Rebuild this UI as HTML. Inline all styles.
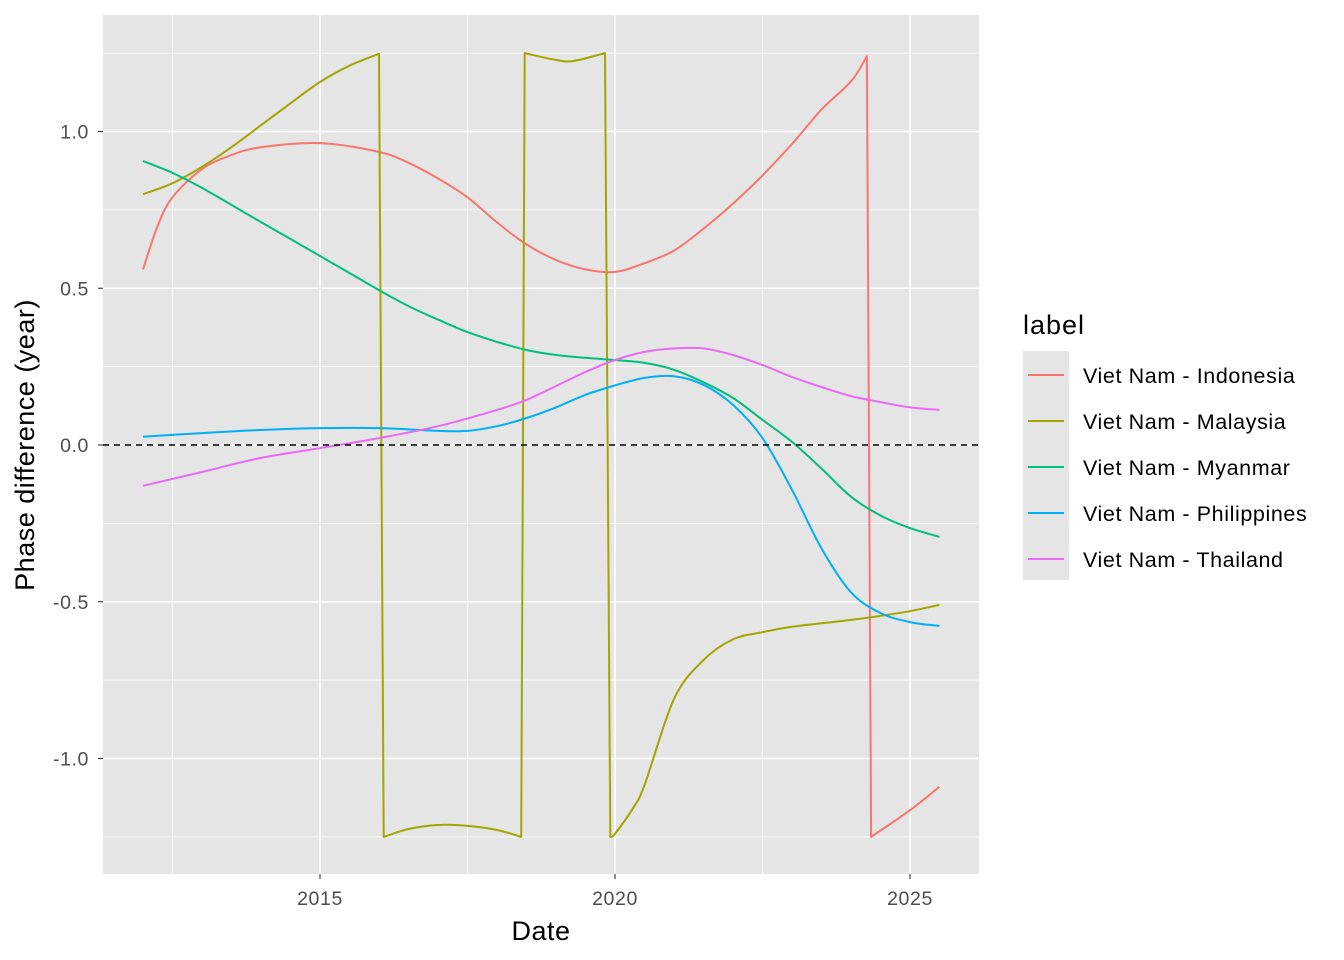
<!DOCTYPE html>
<html><head><meta charset="utf-8"><style>
body{margin:0;background:#fff;}
svg{font-family:"Liberation Sans",Arial,sans-serif;display:block}
</style></head><body>
<svg id="chart" width="1344" height="960">
<rect x="103" y="15" width="876" height="859" fill="#e5e5e5"/>
<g id="grid"></g>
<g id="series"></g>
<line x1="103" x2="979" id="zero" stroke="#000" stroke-width="1.6" stroke-dasharray="6,5"/>
<g id="axes"></g>
<text x="541" y="940" text-anchor="middle" font-size="27" letter-spacing="0.5">Date</text>
<text transform="translate(34,445) rotate(-90)" text-anchor="middle" font-size="27" letter-spacing="0.5">Phase difference (year)</text>
<g>
<text x="1023" y="334" font-size="27" letter-spacing="1">label</text>
<rect x="1023" y="351" width="46" height="229" fill="#e5e5e5"/>
<g id="legend"></g>
</g>
</svg>
<script>
const seriesNames=["Viet Nam - Indonesia","Viet Nam - Malaysia","Viet Nam - Myanmar","Viet Nam - Philippines","Viet Nam - Thailand"];
const seriesColors=["#F8766D","#A3A500","#00BF7D","#00B0F6","#E76BF3"];
const indoX=[2012,2012.25,2012.5,2013,2013.5,2014,2015,2016,2016.5,2017,2017.5,2018,2018.5,2019,2019.5,2020,2020.5,2021,2021.5,2022,2022.5,2023,2023.5,2024,2024.27,2024.34,2025,2025.5];
const indoY=[0.56,0.70,0.79,0.88,0.925,0.95,0.963,0.935,0.90,0.85,0.79,0.71,0.64,0.59,0.56,0.552,0.58,0.62,0.69,0.77,0.86,0.96,1.07,1.16,1.24,-1.25,-1.165,-1.09];
const malX=[2012,2012.5,2013,2013.5,2014,2014.5,2015,2015.5,2016,2016.08,2016.5,2017,2017.5,2018,2018.41,2018.47,2019,2019.3,2019.83,2019.92,2020,2020.3,2020.5,2021,2021.5,2022,2022.5,2023,2024,2024.5,2025,2025.5];
const malY=[0.80,0.835,0.887,0.95,1.02,1.09,1.158,1.21,1.248,-1.25,-1.225,-1.212,-1.215,-1.228,-1.25,1.25,1.228,1.225,1.25,-1.25,-1.24,-1.16,-1.085,-0.81,-0.686,-0.62,-0.597,-0.58,-0.558,-0.545,-0.53,-0.51];
const myaX=[2012,2012.5,2013,2014,2015,2016,2016.5,2017,2017.5,2018,2018.5,2019,2019.5,2020,2020.5,2021,2021.5,2022,2022.5,2023,2023.5,2024,2024.5,2025,2025.5];
const myaY=[0.906,0.868,0.82,0.711,0.603,0.494,0.443,0.40,0.36,0.329,0.303,0.287,0.278,0.271,0.262,0.24,0.20,0.15,0.08,0.01,-0.075,-0.165,-0.225,-0.265,-0.293];
const phiX=[2012,2013,2014,2015,2016,2017,2017.5,2018,2018.5,2019,2019.5,2020,2020.5,2021,2021.5,2022,2022.5,2023,2023.5,2024,2024.5,2025,2025.5];
const phiY=[0.026,0.038,0.048,0.054,0.054,0.045,0.045,0.06,0.086,0.12,0.16,0.19,0.214,0.219,0.192,0.128,0.022,-0.143,-0.33,-0.47,-0.536,-0.565,-0.577];
const thaX=[2012,2013,2014,2015,2016,2017,2018,2018.5,2019,2019.5,2020,2020.5,2021,2021.5,2022,2022.5,2023,2023.5,2024,2024.5,2025,2025.5];
const thaY=[-0.13,-0.086,-0.041,-0.01,0.022,0.06,0.112,0.144,0.188,0.233,0.271,0.297,0.308,0.308,0.287,0.255,0.217,0.185,0.156,0.137,0.12,0.112];
const xTicks=[2015,2020,2025];
const xMinor=[2012.5,2017.5,2022.5];
const yTicks=[-1.0,-0.5,0.0,0.5,1.0];
const yTickLabels=["-1.0","-0.5","0.0","0.5","1.0"];
const yMinor=[-1.25,-0.75,-0.25,0.25,0.75,1.25];

const sx=v=>320+(v-2015)*59;
const sy=v=>445-v*313.5;
const NS="http://www.w3.org/2000/svg";
function mk(tag,attrs,parent){const e=document.createElementNS(NS,tag);for(const k in attrs)e.setAttribute(k,attrs[k]);parent.appendChild(e);return e;}
const grid=document.getElementById('grid'),axes=document.getElementById('axes'),ser=document.getElementById('series');
yMinor.forEach(v=>{const l=mk('line',{x1:103,x2:979,y1:sy(v),y2:sy(v),stroke:'#fff','stroke-width':0.8},grid);

});
xMinor.forEach(v=>{const l=mk('line',{x1:sx(v),x2:sx(v),y1:15,y2:874,stroke:'#fff','stroke-width':0.8},grid);

});
yTicks.forEach((v,i)=>{const l=mk('line',{x1:103,x2:979,y1:sy(v),y2:sy(v),stroke:'#fff','stroke-width':1.6},grid);


const t=mk('line',{x1:98,x2:103,y1:sy(v),y2:sy(v),stroke:'#333','stroke-width':1.1},axes);


const tx=mk('text',{x:89,y:sy(v)+7,'text-anchor':'end','font-size':19.5,'letter-spacing':0.6,fill:'#4d4d4d'},axes);tx.textContent=yTickLabels[i];

});
xTicks.forEach(v=>{const l=mk('line',{x1:sx(v),x2:sx(v),y1:15,y2:874,stroke:'#fff','stroke-width':1.6},grid);


const t=mk('line',{x1:sx(v),x2:sx(v),y1:874,y2:879,stroke:'#333','stroke-width':1.1},axes);


const tx=mk('text',{x:sx(v),y:905,'text-anchor':'middle','font-size':19.5,'letter-spacing':0.6,fill:'#4d4d4d'},axes);tx.textContent=v;

});
const z=document.getElementById('zero');z.setAttribute('y1',sy(0));z.setAttribute('y2',sy(0));
const all=[[indoX,indoY],[malX,malY],[myaX,myaY],[phiX,phiY],[thaX,thaY]];
const keys=['indonesia','malaysia','myanmar','philippines','thailand'];
function smoothPath(pts){
  // split at jumps, catmull-rom within segments
  const segs=[];let cur=[pts[0]];
  for(let i=1;i<pts.length;i++){if(Math.abs(pts[i][1]-pts[i-1][1])>300){segs.push(cur);cur=[pts[i]];}else cur.push(pts[i]);}
  segs.push(cur);
  let d='';
  segs.forEach((s,si)=>{
    d+=(si?'L':'M')+s[0][0].toFixed(1)+','+s[0][1].toFixed(1);
    for(let i=0;i<s.length-1;i++){
      const p0=s[i-1]||s[i],p1=s[i],p2=s[i+1],p3=s[i+2]||s[i+1];
      const c1=[p1[0]+(p2[0]-p0[0])/6,p1[1]+(p2[1]-p0[1])/6];
      const c2=[p2[0]-(p3[0]-p1[0])/6,p2[1]-(p3[1]-p1[1])/6];
      d+='C'+c1[0].toFixed(1)+','+c1[1].toFixed(1)+' '+c2[0].toFixed(1)+','+c2[1].toFixed(1)+' '+p2[0].toFixed(1)+','+p2[1].toFixed(1);
    }
  });
  return d;
}
all.forEach((s,i)=>{const pts=s[0].map((x,j)=>[sx(x),sy(s[1][j])]);
const p=mk('path',{d:smoothPath(pts),fill:'none',stroke:seriesColors[i],'stroke-width':2,'stroke-linejoin':'round'},ser);

});
const lg=document.getElementById('legend');
seriesNames.forEach((n,i)=>{const y=375+i*46;
const l=mk('line',{x1:1028,x2:1064,y1:y,y2:y,stroke:seriesColors[i],'stroke-width':2},lg);


const t=mk('text',{x:1083,y:y+8,'font-size':21.5,'letter-spacing':0.6},lg);t.textContent=n;

});
</script>
</body></html>
